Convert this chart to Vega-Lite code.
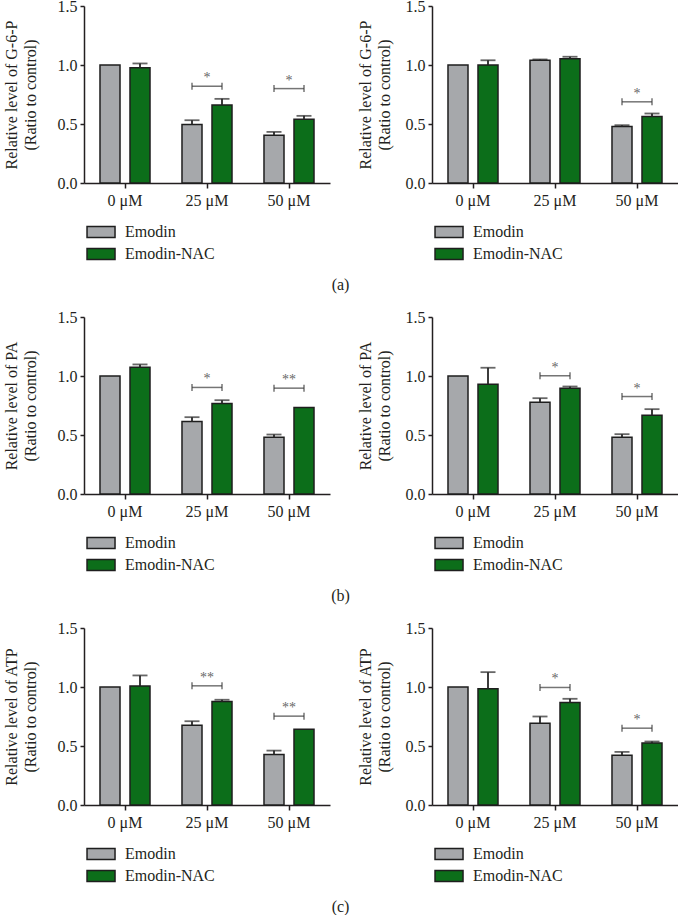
{
 "$schema": "https://vega.github.io/schema/vega-lite/v6.json",
 "padding": {"left": 3, "top": -2, "right": 0, "bottom": 0},
 "datasets": {
  "bars": [
   {"panel":"a1","dose":"0 μM","series":"Emodin","value":1.0,"hi":1.0},
   {"panel":"a1","dose":"0 μM","series":"Emodin-NAC","value":0.976,"hi":1.013},
   {"panel":"a1","dose":"25 μM","series":"Emodin","value":0.495,"hi":0.532},
   {"panel":"a1","dose":"25 μM","series":"Emodin-NAC","value":0.662,"hi":0.713},
   {"panel":"a1","dose":"50 μM","series":"Emodin","value":0.405,"hi":0.433},
   {"panel":"a1","dose":"50 μM","series":"Emodin-NAC","value":0.54,"hi":0.569},
   {"panel":"a2","dose":"0 μM","series":"Emodin","value":1.0,"hi":1.0},
   {"panel":"a2","dose":"0 μM","series":"Emodin-NAC","value":1.0,"hi":1.04},
   {"panel":"a2","dose":"25 μM","series":"Emodin","value":1.04,"hi":1.047},
   {"panel":"a2","dose":"25 μM","series":"Emodin-NAC","value":1.053,"hi":1.07},
   {"panel":"a2","dose":"50 μM","series":"Emodin","value":0.478,"hi":0.49},
   {"panel":"a2","dose":"50 μM","series":"Emodin-NAC","value":0.563,"hi":0.589},
   {"panel":"b1","dose":"0 μM","series":"Emodin","value":1.0,"hi":1.0},
   {"panel":"b1","dose":"0 μM","series":"Emodin-NAC","value":1.075,"hi":1.098},
   {"panel":"b1","dose":"25 μM","series":"Emodin","value":0.614,"hi":0.651},
   {"panel":"b1","dose":"25 μM","series":"Emodin-NAC","value":0.767,"hi":0.795},
   {"panel":"b1","dose":"50 μM","series":"Emodin","value":0.481,"hi":0.504},
   {"panel":"b1","dose":"50 μM","series":"Emodin-NAC","value":0.733,"hi":0.733},
   {"panel":"b2","dose":"0 μM","series":"Emodin","value":1.0,"hi":1.0},
   {"panel":"b2","dose":"0 μM","series":"Emodin-NAC","value":0.931,"hi":1.07},
   {"panel":"b2","dose":"25 μM","series":"Emodin","value":0.778,"hi":0.812},
   {"panel":"b2","dose":"25 μM","series":"Emodin-NAC","value":0.897,"hi":0.911},
   {"panel":"b2","dose":"50 μM","series":"Emodin","value":0.481,"hi":0.507},
   {"panel":"b2","dose":"50 μM","series":"Emodin-NAC","value":0.668,"hi":0.719},
   {"panel":"c1","dose":"0 μM","series":"Emodin","value":1.0,"hi":1.0},
   {"panel":"c1","dose":"0 μM","series":"Emodin-NAC","value":1.008,"hi":1.098},
   {"panel":"c1","dose":"25 μM","series":"Emodin","value":0.676,"hi":0.71},
   {"panel":"c1","dose":"25 μM","series":"Emodin-NAC","value":0.877,"hi":0.892},
   {"panel":"c1","dose":"50 μM","series":"Emodin","value":0.427,"hi":0.461},
   {"panel":"c1","dose":"50 μM","series":"Emodin-NAC","value":0.642,"hi":0.642},
   {"panel":"c2","dose":"0 μM","series":"Emodin","value":1.0,"hi":1.0},
   {"panel":"c2","dose":"0 μM","series":"Emodin-NAC","value":0.985,"hi":1.126},
   {"panel":"c2","dose":"25 μM","series":"Emodin","value":0.693,"hi":0.75},
   {"panel":"c2","dose":"25 μM","series":"Emodin-NAC","value":0.869,"hi":0.9},
   {"panel":"c2","dose":"50 μM","series":"Emodin","value":0.422,"hi":0.45},
   {"panel":"c2","dose":"50 μM","series":"Emodin-NAC","value":0.526,"hi":0.538}
  ],
  "sig": [
   {"panel":"a1","dose":"25 μM","series":"Emodin","y":0.82,"star":"*"},
   {"panel":"a1","dose":"25 μM","series":"Emodin-NAC","y":0.82,"star":"*"},
   {"panel":"a1","dose":"50 μM","series":"Emodin","y":0.80,"star":"*"},
   {"panel":"a1","dose":"50 μM","series":"Emodin-NAC","y":0.80,"star":"*"},
   {"panel":"a2","dose":"50 μM","series":"Emodin","y":0.688,"star":"*"},
   {"panel":"a2","dose":"50 μM","series":"Emodin-NAC","y":0.688,"star":"*"},
   {"panel":"b1","dose":"25 μM","series":"Emodin","y":0.903,"star":"*"},
   {"panel":"b1","dose":"25 μM","series":"Emodin-NAC","y":0.903,"star":"*"},
   {"panel":"b1","dose":"50 μM","series":"Emodin","y":0.897,"star":"**"},
   {"panel":"b1","dose":"50 μM","series":"Emodin-NAC","y":0.897,"star":"**"},
   {"panel":"b2","dose":"25 μM","series":"Emodin","y":1.002,"star":"*"},
   {"panel":"b2","dose":"25 μM","series":"Emodin-NAC","y":1.002,"star":"*"},
   {"panel":"b2","dose":"50 μM","series":"Emodin","y":0.826,"star":"*"},
   {"panel":"b2","dose":"50 μM","series":"Emodin-NAC","y":0.826,"star":"*"},
   {"panel":"c1","dose":"25 μM","series":"Emodin","y":1.01,"star":"**"},
   {"panel":"c1","dose":"25 μM","series":"Emodin-NAC","y":1.01,"star":"**"},
   {"panel":"c1","dose":"50 μM","series":"Emodin","y":0.753,"star":"**"},
   {"panel":"c1","dose":"50 μM","series":"Emodin-NAC","y":0.753,"star":"**"},
   {"panel":"c2","dose":"25 μM","series":"Emodin","y":0.996,"star":"*"},
   {"panel":"c2","dose":"25 μM","series":"Emodin-NAC","y":0.996,"star":"*"},
   {"panel":"c2","dose":"50 μM","series":"Emodin","y":0.651,"star":"*"},
   {"panel":"c2","dose":"50 μM","series":"Emodin-NAC","y":0.651,"star":"*"}
  ]
 },
 "spacing": 16,
 "resolve": {"scale": {"color": "independent"}, "legend": {"color": "independent"}},
 "vconcat": [
  {
   "title": {"text": "(a)", "orient": "bottom"},
   "spacing": 27,
   "resolve": {"scale": {"color": "independent"}, "legend": {"color": "independent"}},
   "hconcat": [
    {
     "width": 246, "height": 177,
     "layer": [
      {"data":{"name":"bars"},"transform":[{"filter":"datum.panel==='a1'"}],
       "mark":{"type":"bar","stroke":"#1e1e1e","strokeWidth":1.5},
       "encoding":{
        "x":{"field":"dose","type":"nominal","sort":["0 μM","25 μM","50 μM"],"scale":{"paddingInner":0,"paddingOuter":0},"title":null},
        "xOffset":{"field":"series","sort":["Emodin","Emodin-NAC"],"scale":{"paddingInner":0.333,"paddingOuter":0.533}},
        "y":{"field":"value","type":"quantitative","scale":{"domain":[0,1.5],"nice":false},"axis":{"values":[0,0.5,1,1.5],"format":".1f","titlePadding":19},"title":["Relative level of G-6-P","(Ratio to control)"]},
        "color":{"field":"series","type":"nominal","sort":["Emodin","Emodin-NAC"],"scale":{"domain":["Emodin","Emodin-NAC"],"range":["#a6a8ab","#0c6e1a"]},"legend":{"title":null}}
       }},
      {"data":{"name":"bars"},"transform":[{"filter":"datum.panel==='a1' && datum.hi>datum.value"}],
       "mark":{"type":"rule","color":"#262626","strokeWidth":1.8},
       "encoding":{"x":{"field":"dose","type":"nominal","sort":["0 μM","25 μM","50 μM"],"title":null},"xOffset":{"field":"series","sort":["Emodin","Emodin-NAC"]},"y":{"field":"value","type":"quantitative","title":["Relative level of G-6-P","(Ratio to control)"]},"y2":{"field":"hi"}}},
      {"data":{"name":"bars"},"transform":[{"filter":"datum.panel==='a1' && datum.hi>datum.value"}],
       "mark":{"type":"tick","orient":"horizontal","color":"#262626","thickness":1.8,"size":15},
       "encoding":{"x":{"field":"dose","type":"nominal","sort":["0 μM","25 μM","50 μM"],"title":null},"xOffset":{"field":"series","sort":["Emodin","Emodin-NAC"]},"y":{"field":"hi","type":"quantitative","title":["Relative level of G-6-P","(Ratio to control)"]}}},
      {"data":{"name":"sig"},"transform":[{"filter":"datum.panel==='a1'"}],
       "mark":{"type":"tick","orient":"vertical","color":"#3a3a3a","thickness":1.5,"size":7},
       "encoding":{"x":{"field":"dose","type":"nominal","sort":["0 μM","25 μM","50 μM"],"title":null},"xOffset":{"field":"series","sort":["Emodin","Emodin-NAC"]},"y":{"field":"y","type":"quantitative","title":["Relative level of G-6-P","(Ratio to control)"]}}},
      {"data":{"name":"sig"},"transform":[{"filter":"datum.panel==='a1' && datum.series==='Emodin'"}],
       "mark":{"type":"tick","orient":"horizontal","color":"#3a3a3a","thickness":1.5,"size":30},
       "encoding":{"x":{"field":"dose","type":"nominal","sort":["0 μM","25 μM","50 μM"],"title":null},"y":{"field":"y","type":"quantitative","title":["Relative level of G-6-P","(Ratio to control)"]}}},
      {"data":{"name":"sig"},"transform":[{"filter":"datum.panel==='a1' && datum.series==='Emodin'"}],
       "mark":{"type":"text","dy":-8,"fontSize":14,"color":"#666666","fill":"#666666","font":"Liberation Serif"},
       "encoding":{"x":{"field":"dose","type":"nominal","sort":["0 μM","25 μM","50 μM"],"title":null},"y":{"field":"y","type":"quantitative","title":["Relative level of G-6-P","(Ratio to control)"]},"text":{"field":"star"}}}
     ]
    },
    {
     "width": 246, "height": 177,
     "layer": [
      {"data":{"name":"bars"},"transform":[{"filter":"datum.panel==='a2'"}],
       "mark":{"type":"bar","stroke":"#1e1e1e","strokeWidth":1.5},
       "encoding":{
        "x":{"field":"dose","type":"nominal","sort":["0 μM","25 μM","50 μM"],"scale":{"paddingInner":0,"paddingOuter":0},"title":null},
        "xOffset":{"field":"series","sort":["Emodin","Emodin-NAC"],"scale":{"paddingInner":0.333,"paddingOuter":0.533}},
        "y":{"field":"value","type":"quantitative","scale":{"domain":[0,1.5],"nice":false},"axis":{"values":[0,0.5,1,1.5],"format":".1f","titlePadding":13},"title":["Relative level of G-6-P","(Ratio to control)"]},
        "color":{"field":"series","type":"nominal","sort":["Emodin","Emodin-NAC"],"scale":{"domain":["Emodin","Emodin-NAC"],"range":["#a6a8ab","#0c6e1a"]},"legend":{"title":null}}
       }},
      {"data":{"name":"bars"},"transform":[{"filter":"datum.panel==='a2' && datum.hi>datum.value"}],
       "mark":{"type":"rule","color":"#262626","strokeWidth":1.8},
       "encoding":{"x":{"field":"dose","type":"nominal","sort":["0 μM","25 μM","50 μM"],"title":null},"xOffset":{"field":"series","sort":["Emodin","Emodin-NAC"]},"y":{"field":"value","type":"quantitative","title":["Relative level of G-6-P","(Ratio to control)"]},"y2":{"field":"hi"}}},
      {"data":{"name":"bars"},"transform":[{"filter":"datum.panel==='a2' && datum.hi>datum.value"}],
       "mark":{"type":"tick","orient":"horizontal","color":"#262626","thickness":1.8,"size":15},
       "encoding":{"x":{"field":"dose","type":"nominal","sort":["0 μM","25 μM","50 μM"],"title":null},"xOffset":{"field":"series","sort":["Emodin","Emodin-NAC"]},"y":{"field":"hi","type":"quantitative","title":["Relative level of G-6-P","(Ratio to control)"]}}},
      {"data":{"name":"sig"},"transform":[{"filter":"datum.panel==='a2'"}],
       "mark":{"type":"tick","orient":"vertical","color":"#3a3a3a","thickness":1.5,"size":7},
       "encoding":{"x":{"field":"dose","type":"nominal","sort":["0 μM","25 μM","50 μM"],"title":null},"xOffset":{"field":"series","sort":["Emodin","Emodin-NAC"]},"y":{"field":"y","type":"quantitative","title":["Relative level of G-6-P","(Ratio to control)"]}}},
      {"data":{"name":"sig"},"transform":[{"filter":"datum.panel==='a2' && datum.series==='Emodin'"}],
       "mark":{"type":"tick","orient":"horizontal","color":"#3a3a3a","thickness":1.5,"size":30},
       "encoding":{"x":{"field":"dose","type":"nominal","sort":["0 μM","25 μM","50 μM"],"title":null},"y":{"field":"y","type":"quantitative","title":["Relative level of G-6-P","(Ratio to control)"]}}},
      {"data":{"name":"sig"},"transform":[{"filter":"datum.panel==='a2' && datum.series==='Emodin'"}],
       "mark":{"type":"text","dy":-8,"fontSize":14,"color":"#666666","fill":"#666666","font":"Liberation Serif"},
       "encoding":{"x":{"field":"dose","type":"nominal","sort":["0 μM","25 μM","50 μM"],"title":null},"y":{"field":"y","type":"quantitative","title":["Relative level of G-6-P","(Ratio to control)"]},"text":{"field":"star"}}}
     ]
    }
   ]
  },
  {
   "title": {"text": "(b)", "orient": "bottom"},
   "spacing": 27,
   "resolve": {"scale": {"color": "independent"}, "legend": {"color": "independent"}},
   "hconcat": [
    {
     "width": 246, "height": 177,
     "layer": [
      {"data":{"name":"bars"},"transform":[{"filter":"datum.panel==='b1'"}],
       "mark":{"type":"bar","stroke":"#1e1e1e","strokeWidth":1.5},
       "encoding":{
        "x":{"field":"dose","type":"nominal","sort":["0 μM","25 μM","50 μM"],"scale":{"paddingInner":0,"paddingOuter":0},"title":null},
        "xOffset":{"field":"series","sort":["Emodin","Emodin-NAC"],"scale":{"paddingInner":0.333,"paddingOuter":0.533}},
        "y":{"field":"value","type":"quantitative","scale":{"domain":[0,1.5],"nice":false},"axis":{"values":[0,0.5,1,1.5],"format":".1f","titlePadding":19},"title":["Relative level of PA","(Ratio to control)"]},
        "color":{"field":"series","type":"nominal","sort":["Emodin","Emodin-NAC"],"scale":{"domain":["Emodin","Emodin-NAC"],"range":["#a6a8ab","#0c6e1a"]},"legend":{"title":null}}
       }},
      {"data":{"name":"bars"},"transform":[{"filter":"datum.panel==='b1' && datum.hi>datum.value"}],
       "mark":{"type":"rule","color":"#262626","strokeWidth":1.8},
       "encoding":{"x":{"field":"dose","type":"nominal","sort":["0 μM","25 μM","50 μM"],"title":null},"xOffset":{"field":"series","sort":["Emodin","Emodin-NAC"]},"y":{"field":"value","type":"quantitative","title":["Relative level of PA","(Ratio to control)"]},"y2":{"field":"hi"}}},
      {"data":{"name":"bars"},"transform":[{"filter":"datum.panel==='b1' && datum.hi>datum.value"}],
       "mark":{"type":"tick","orient":"horizontal","color":"#262626","thickness":1.8,"size":15},
       "encoding":{"x":{"field":"dose","type":"nominal","sort":["0 μM","25 μM","50 μM"],"title":null},"xOffset":{"field":"series","sort":["Emodin","Emodin-NAC"]},"y":{"field":"hi","type":"quantitative","title":["Relative level of PA","(Ratio to control)"]}}},
      {"data":{"name":"sig"},"transform":[{"filter":"datum.panel==='b1'"}],
       "mark":{"type":"tick","orient":"vertical","color":"#3a3a3a","thickness":1.5,"size":7},
       "encoding":{"x":{"field":"dose","type":"nominal","sort":["0 μM","25 μM","50 μM"],"title":null},"xOffset":{"field":"series","sort":["Emodin","Emodin-NAC"]},"y":{"field":"y","type":"quantitative","title":["Relative level of PA","(Ratio to control)"]}}},
      {"data":{"name":"sig"},"transform":[{"filter":"datum.panel==='b1' && datum.series==='Emodin'"}],
       "mark":{"type":"tick","orient":"horizontal","color":"#3a3a3a","thickness":1.5,"size":30},
       "encoding":{"x":{"field":"dose","type":"nominal","sort":["0 μM","25 μM","50 μM"],"title":null},"y":{"field":"y","type":"quantitative","title":["Relative level of PA","(Ratio to control)"]}}},
      {"data":{"name":"sig"},"transform":[{"filter":"datum.panel==='b1' && datum.series==='Emodin'"}],
       "mark":{"type":"text","dy":-8,"fontSize":14,"color":"#666666","fill":"#666666","font":"Liberation Serif"},
       "encoding":{"x":{"field":"dose","type":"nominal","sort":["0 μM","25 μM","50 μM"],"title":null},"y":{"field":"y","type":"quantitative","title":["Relative level of PA","(Ratio to control)"]},"text":{"field":"star"}}}
     ]
    },
    {
     "width": 246, "height": 177,
     "layer": [
      {"data":{"name":"bars"},"transform":[{"filter":"datum.panel==='b2'"}],
       "mark":{"type":"bar","stroke":"#1e1e1e","strokeWidth":1.5},
       "encoding":{
        "x":{"field":"dose","type":"nominal","sort":["0 μM","25 μM","50 μM"],"scale":{"paddingInner":0,"paddingOuter":0},"title":null},
        "xOffset":{"field":"series","sort":["Emodin","Emodin-NAC"],"scale":{"paddingInner":0.333,"paddingOuter":0.533}},
        "y":{"field":"value","type":"quantitative","scale":{"domain":[0,1.5],"nice":false},"axis":{"values":[0,0.5,1,1.5],"format":".1f","titlePadding":13},"title":["Relative level of PA","(Ratio to control)"]},
        "color":{"field":"series","type":"nominal","sort":["Emodin","Emodin-NAC"],"scale":{"domain":["Emodin","Emodin-NAC"],"range":["#a6a8ab","#0c6e1a"]},"legend":{"title":null}}
       }},
      {"data":{"name":"bars"},"transform":[{"filter":"datum.panel==='b2' && datum.hi>datum.value"}],
       "mark":{"type":"rule","color":"#262626","strokeWidth":1.8},
       "encoding":{"x":{"field":"dose","type":"nominal","sort":["0 μM","25 μM","50 μM"],"title":null},"xOffset":{"field":"series","sort":["Emodin","Emodin-NAC"]},"y":{"field":"value","type":"quantitative","title":["Relative level of PA","(Ratio to control)"]},"y2":{"field":"hi"}}},
      {"data":{"name":"bars"},"transform":[{"filter":"datum.panel==='b2' && datum.hi>datum.value"}],
       "mark":{"type":"tick","orient":"horizontal","color":"#262626","thickness":1.8,"size":15},
       "encoding":{"x":{"field":"dose","type":"nominal","sort":["0 μM","25 μM","50 μM"],"title":null},"xOffset":{"field":"series","sort":["Emodin","Emodin-NAC"]},"y":{"field":"hi","type":"quantitative","title":["Relative level of PA","(Ratio to control)"]}}},
      {"data":{"name":"sig"},"transform":[{"filter":"datum.panel==='b2'"}],
       "mark":{"type":"tick","orient":"vertical","color":"#3a3a3a","thickness":1.5,"size":7},
       "encoding":{"x":{"field":"dose","type":"nominal","sort":["0 μM","25 μM","50 μM"],"title":null},"xOffset":{"field":"series","sort":["Emodin","Emodin-NAC"]},"y":{"field":"y","type":"quantitative","title":["Relative level of PA","(Ratio to control)"]}}},
      {"data":{"name":"sig"},"transform":[{"filter":"datum.panel==='b2' && datum.series==='Emodin'"}],
       "mark":{"type":"tick","orient":"horizontal","color":"#3a3a3a","thickness":1.5,"size":30},
       "encoding":{"x":{"field":"dose","type":"nominal","sort":["0 μM","25 μM","50 μM"],"title":null},"y":{"field":"y","type":"quantitative","title":["Relative level of PA","(Ratio to control)"]}}},
      {"data":{"name":"sig"},"transform":[{"filter":"datum.panel==='b2' && datum.series==='Emodin'"}],
       "mark":{"type":"text","dy":-8,"fontSize":14,"color":"#666666","fill":"#666666","font":"Liberation Serif"},
       "encoding":{"x":{"field":"dose","type":"nominal","sort":["0 μM","25 μM","50 μM"],"title":null},"y":{"field":"y","type":"quantitative","title":["Relative level of PA","(Ratio to control)"]},"text":{"field":"star"}}}
     ]
    }
   ]
  },
  {
   "title": {"text": "(c)", "orient": "bottom"},
   "spacing": 27,
   "resolve": {"scale": {"color": "independent"}, "legend": {"color": "independent"}},
   "hconcat": [
    {
     "width": 246, "height": 177,
     "layer": [
      {"data":{"name":"bars"},"transform":[{"filter":"datum.panel==='c1'"}],
       "mark":{"type":"bar","stroke":"#1e1e1e","strokeWidth":1.5},
       "encoding":{
        "x":{"field":"dose","type":"nominal","sort":["0 μM","25 μM","50 μM"],"scale":{"paddingInner":0,"paddingOuter":0},"title":null},
        "xOffset":{"field":"series","sort":["Emodin","Emodin-NAC"],"scale":{"paddingInner":0.333,"paddingOuter":0.533}},
        "y":{"field":"value","type":"quantitative","scale":{"domain":[0,1.5],"nice":false},"axis":{"values":[0,0.5,1,1.5],"format":".1f","titlePadding":19},"title":["Relative level of ATP","(Ratio to control)"]},
        "color":{"field":"series","type":"nominal","sort":["Emodin","Emodin-NAC"],"scale":{"domain":["Emodin","Emodin-NAC"],"range":["#a6a8ab","#0c6e1a"]},"legend":{"title":null}}
       }},
      {"data":{"name":"bars"},"transform":[{"filter":"datum.panel==='c1' && datum.hi>datum.value"}],
       "mark":{"type":"rule","color":"#262626","strokeWidth":1.8},
       "encoding":{"x":{"field":"dose","type":"nominal","sort":["0 μM","25 μM","50 μM"],"title":null},"xOffset":{"field":"series","sort":["Emodin","Emodin-NAC"]},"y":{"field":"value","type":"quantitative","title":["Relative level of ATP","(Ratio to control)"]},"y2":{"field":"hi"}}},
      {"data":{"name":"bars"},"transform":[{"filter":"datum.panel==='c1' && datum.hi>datum.value"}],
       "mark":{"type":"tick","orient":"horizontal","color":"#262626","thickness":1.8,"size":15},
       "encoding":{"x":{"field":"dose","type":"nominal","sort":["0 μM","25 μM","50 μM"],"title":null},"xOffset":{"field":"series","sort":["Emodin","Emodin-NAC"]},"y":{"field":"hi","type":"quantitative","title":["Relative level of ATP","(Ratio to control)"]}}},
      {"data":{"name":"sig"},"transform":[{"filter":"datum.panel==='c1'"}],
       "mark":{"type":"tick","orient":"vertical","color":"#3a3a3a","thickness":1.5,"size":7},
       "encoding":{"x":{"field":"dose","type":"nominal","sort":["0 μM","25 μM","50 μM"],"title":null},"xOffset":{"field":"series","sort":["Emodin","Emodin-NAC"]},"y":{"field":"y","type":"quantitative","title":["Relative level of ATP","(Ratio to control)"]}}},
      {"data":{"name":"sig"},"transform":[{"filter":"datum.panel==='c1' && datum.series==='Emodin'"}],
       "mark":{"type":"tick","orient":"horizontal","color":"#3a3a3a","thickness":1.5,"size":30},
       "encoding":{"x":{"field":"dose","type":"nominal","sort":["0 μM","25 μM","50 μM"],"title":null},"y":{"field":"y","type":"quantitative","title":["Relative level of ATP","(Ratio to control)"]}}},
      {"data":{"name":"sig"},"transform":[{"filter":"datum.panel==='c1' && datum.series==='Emodin'"}],
       "mark":{"type":"text","dy":-8,"fontSize":14,"color":"#666666","fill":"#666666","font":"Liberation Serif"},
       "encoding":{"x":{"field":"dose","type":"nominal","sort":["0 μM","25 μM","50 μM"],"title":null},"y":{"field":"y","type":"quantitative","title":["Relative level of ATP","(Ratio to control)"]},"text":{"field":"star"}}}
     ]
    },
    {
     "width": 246, "height": 177,
     "layer": [
      {"data":{"name":"bars"},"transform":[{"filter":"datum.panel==='c2'"}],
       "mark":{"type":"bar","stroke":"#1e1e1e","strokeWidth":1.5},
       "encoding":{
        "x":{"field":"dose","type":"nominal","sort":["0 μM","25 μM","50 μM"],"scale":{"paddingInner":0,"paddingOuter":0},"title":null},
        "xOffset":{"field":"series","sort":["Emodin","Emodin-NAC"],"scale":{"paddingInner":0.333,"paddingOuter":0.533}},
        "y":{"field":"value","type":"quantitative","scale":{"domain":[0,1.5],"nice":false},"axis":{"values":[0,0.5,1,1.5],"format":".1f","titlePadding":13},"title":["Relative level of ATP","(Ratio to control)"]},
        "color":{"field":"series","type":"nominal","sort":["Emodin","Emodin-NAC"],"scale":{"domain":["Emodin","Emodin-NAC"],"range":["#a6a8ab","#0c6e1a"]},"legend":{"title":null}}
       }},
      {"data":{"name":"bars"},"transform":[{"filter":"datum.panel==='c2' && datum.hi>datum.value"}],
       "mark":{"type":"rule","color":"#262626","strokeWidth":1.8},
       "encoding":{"x":{"field":"dose","type":"nominal","sort":["0 μM","25 μM","50 μM"],"title":null},"xOffset":{"field":"series","sort":["Emodin","Emodin-NAC"]},"y":{"field":"value","type":"quantitative","title":["Relative level of ATP","(Ratio to control)"]},"y2":{"field":"hi"}}},
      {"data":{"name":"bars"},"transform":[{"filter":"datum.panel==='c2' && datum.hi>datum.value"}],
       "mark":{"type":"tick","orient":"horizontal","color":"#262626","thickness":1.8,"size":15},
       "encoding":{"x":{"field":"dose","type":"nominal","sort":["0 μM","25 μM","50 μM"],"title":null},"xOffset":{"field":"series","sort":["Emodin","Emodin-NAC"]},"y":{"field":"hi","type":"quantitative","title":["Relative level of ATP","(Ratio to control)"]}}},
      {"data":{"name":"sig"},"transform":[{"filter":"datum.panel==='c2'"}],
       "mark":{"type":"tick","orient":"vertical","color":"#3a3a3a","thickness":1.5,"size":7},
       "encoding":{"x":{"field":"dose","type":"nominal","sort":["0 μM","25 μM","50 μM"],"title":null},"xOffset":{"field":"series","sort":["Emodin","Emodin-NAC"]},"y":{"field":"y","type":"quantitative","title":["Relative level of ATP","(Ratio to control)"]}}},
      {"data":{"name":"sig"},"transform":[{"filter":"datum.panel==='c2' && datum.series==='Emodin'"}],
       "mark":{"type":"tick","orient":"horizontal","color":"#3a3a3a","thickness":1.5,"size":30},
       "encoding":{"x":{"field":"dose","type":"nominal","sort":["0 μM","25 μM","50 μM"],"title":null},"y":{"field":"y","type":"quantitative","title":["Relative level of ATP","(Ratio to control)"]}}},
      {"data":{"name":"sig"},"transform":[{"filter":"datum.panel==='c2' && datum.series==='Emodin'"}],
       "mark":{"type":"text","dy":-8,"fontSize":14,"color":"#666666","fill":"#666666","font":"Liberation Serif"},
       "encoding":{"x":{"field":"dose","type":"nominal","sort":["0 μM","25 μM","50 μM"],"title":null},"y":{"field":"y","type":"quantitative","title":["Relative level of ATP","(Ratio to control)"]},"text":{"field":"star"}}}
     ]
    }
   ]
  }
 ],
 "config": {
  "view": {"stroke": null},
  "font": "Liberation Serif",
  "axis": {"labelFont":"Liberation Serif","titleFont":"Liberation Serif","labelFontSize":16,"titleFontSize":16,"titleFontWeight":"normal","titleLineHeight":19,"labelColor":"#231f20","titleColor":"#231f20","domainColor":"#231f20","tickColor":"#231f20","domainWidth":1.5,"tickWidth":1.5,"tickSize":4,"labelPadding":3,"grid":false},
  "axisX": {"labelAngle":0,"tickSize":5,"labelPadding":4},
  "legend": {"orient":"bottom","direction":"vertical","offset":16,"padding":0,"symbolType":"M-0.71,-0.79H3.29V0.79H-0.71Z","symbolSize":196,"symbolStrokeColor":"#1e1e1e","symbolStrokeWidth":1.5,"symbolOpacity":1,"labelFont":"Liberation Serif","labelFontSize":16,"labelColor":"#231f20","labelOffset":25,"rowPadding":4},
  "title": {"font":"Liberation Serif","fontSize":16,"fontWeight":"normal","color":"#231f20","offset":14,"anchor":"middle"}
 }
}
